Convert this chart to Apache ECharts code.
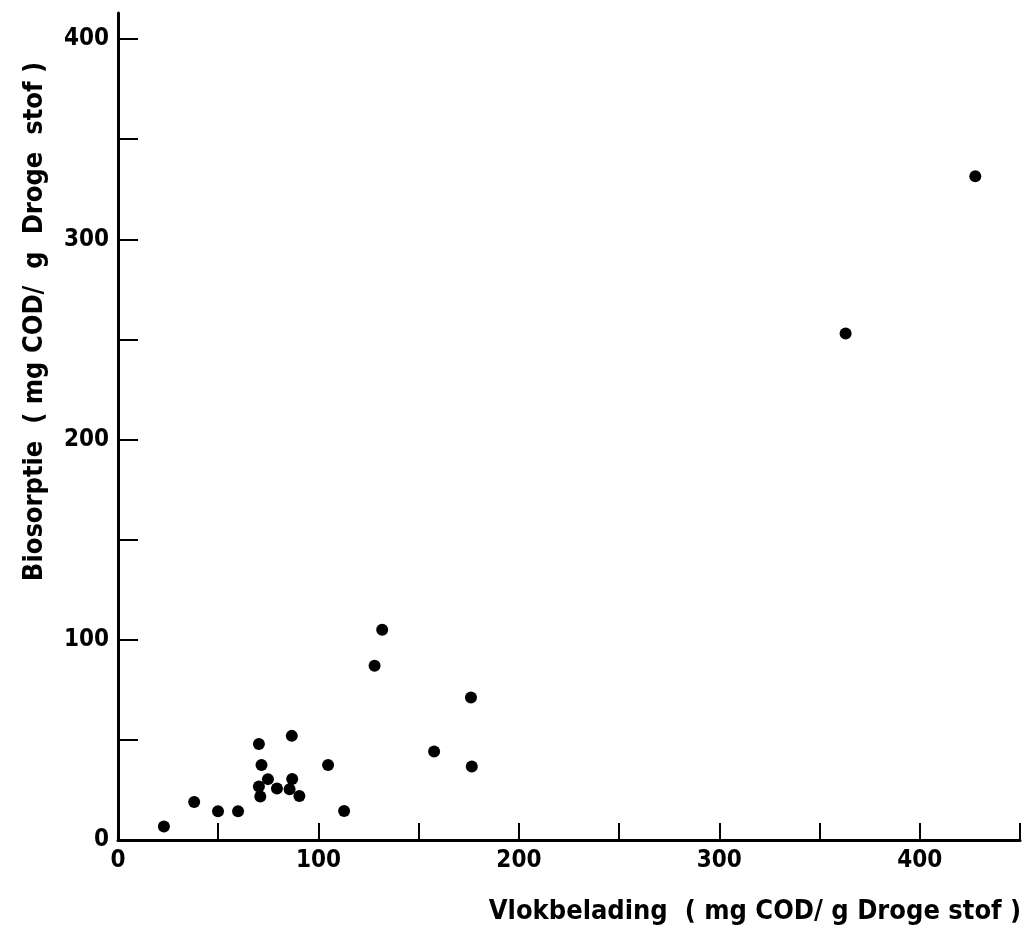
<!DOCTYPE html>
<html>
<head>
<meta charset="utf-8">
<script src="https://cdn.jsdelivr.net/npm/echarts@6/dist/echarts.min.js"></script>
<style>
html,body{margin:0;padding:0;background:#fff;}
#chart{width:1035px;height:938px;}
</style>
</head>
<body>
<div id="chart"></div>
<script>
// Data
const vlokbelading = [22.9, 38, 49.9, 59.9, 70.3, 71.6, 74.8, 70.3, 71, 79.3, 85.6, 86.7, 86.9, 90.5, 104.8, 112.8, 128, 131.8, 157.7, 176.1, 176.5, 363, 427.7];
const biosorptie   = [6.7, 19, 14.4, 14.4, 48, 37.4, 30.4, 26.7, 21.7, 25.7, 25.4, 52, 30.5, 22, 37.4, 14.5, 87, 105, 44.2, 71.2, 36.7, 253, 331.5];
const xTicks = [0, 50, 100, 150, 200, 250, 300, 350, 400, 450];
const xLabels = [0, 100, 200, 300, 400];
const yTicks = [0, 50, 100, 150, 200, 250, 300, 350, 400];
const yLabels = [0, 100, 200, 300, 400];
const xTitle = 'Vlokbelading  ( mg COD/ g Droge stof )';
const yTitle = 'Biosorptie  ( mg COD/  g  Droge  stof )';

const points = vlokbelading.map((x, i) => [x, biosorptie[i]]);
const FONT = 'DejaVu Sans Condensed';

const chart = echarts.init(document.getElementById('chart'), null, {renderer: 'canvas'});
chart.setOption({
  animation: false,
  backgroundColor: '#ffffff',
  grid: {left: 118, right: 15, top: 13, bottom: 98, containLabel: false},
  xAxis: {
    type: 'value', min: 0, max: 450,
    name: xTitle, nameLocation: 'middle', nameGap: 58,
    nameTextStyle: {fontFamily: FONT, fontWeight: 'bold', fontSize: 27, color: '#000', padding: [0, 0, 0, 372]},
    axisLine: {show: true, lineStyle: {color: '#000', width: 3}},
    axisTick: {show: true, inside: true, length: 17, customValues: xTicks, lineStyle: {color: '#000', width: 2}},
    axisLabel: {customValues: xLabels, fontFamily: FONT, fontWeight: 'bold', fontSize: 24, color: '#000', margin: 9},
    splitLine: {show: false}
  },
  yAxis: {
    type: 'value', min: 0, max: 413,
    name: yTitle, nameLocation: 'middle', nameGap: 70,
    nameTextStyle: {fontFamily: FONT, fontWeight: 'bold', fontSize: 27, color: '#000', padding: [0, 0, 0, 210]},
    axisLine: {show: true, lineStyle: {color: '#000', width: 3}},
    axisTick: {show: true, inside: true, length: 20, customValues: yTicks, lineStyle: {color: '#000', width: 2}},
    axisLabel: {customValues: yLabels, fontFamily: FONT, fontWeight: 'bold', fontSize: 24, color: '#000', margin: 9},
    splitLine: {show: false}
  },
  series: [{
    type: 'scatter',
    data: points,
    symbol: 'circle',
    symbolSize: 12,
    itemStyle: {color: '#000', opacity: 1}
  }]
});
</script>
</body>
</html>
